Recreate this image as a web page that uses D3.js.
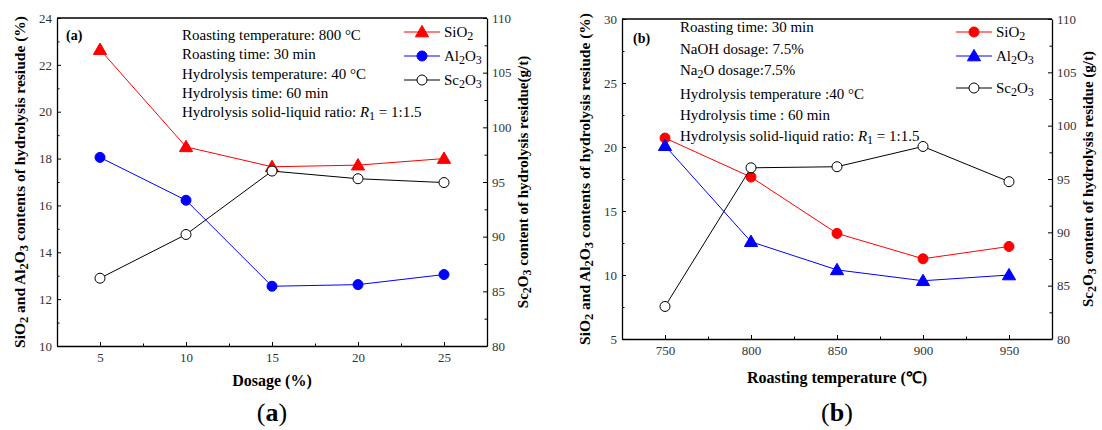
<!DOCTYPE html>
<html><head><meta charset="utf-8">
<script src="https://cdn.jsdelivr.net/npm/d3@7"></script>
<style>
body{margin:0;background:#fff;}
svg{font-family:"Liberation Serif","Times New Roman",serif;}
.tick text{fill:#333;font-size:13px;font-family:"Liberation Serif",serif;}
.domain{stroke:#000;stroke-width:1.3px;}
.tick line{stroke:#000;}
</style></head>
<body><svg id="c" width="1102" height="430"></svg>
<script>
// ---------- data ----------
const dosage = [5, 10, 15, 20, 25];
const sio2A = [22.65, 18.5, 17.65, 17.72, 18.0];
const al2o3A = [18.05, 16.22, 12.55, 12.62, 13.05];
const sc2o3A = [86.2, 90.2, 96.0, 95.3, 94.95];

const roastTemp = [750, 800, 850, 900, 950];
const sio2B = [20.7, 17.65, 13.25, 11.27, 12.23];
const al2o3B = [20.1, 12.6, 10.4, 9.55, 10.0];
const sc2o3B = [83.05, 96.05, 96.15, 98.05, 94.75];

const annoA = ["Roasting temperature: 800 °C","Roasting time: 30 min","Hydrolysis temperature: 40 °C","Hydrolysis time: 60 min","RATIO"];
const annoB = ["Roasting time: 30 min","NaOH dosage: 7.5%","NA2O","Hydrolysis temperature :40 °C","Hydrolysis time : 60 min","RATIO"];

const svg = d3.select("#c");

function formula(t, parts){
  parts.forEach(p=>{
    if(p[1]) t.append("tspan").attr("baseline-shift","-25%").attr("font-size","0.8em").text(p[0]);
    else t.append("tspan").text(p[0]);
  });
  return t;
}
const SIO2 = [["SiO"],["2",1]];
const AL2O3 = [["Al"],["2",1],["O"],["3",1]];
const SC2O3 = [["Sc"],["2",1],["O"],["3",1]];

function panel(o){
  const g = svg.append("g");
  const x = d3.scaleLinear().domain(o.xDom).range([o.x0,o.x1]);
  const yL = d3.scaleLinear().domain(o.yLDom).range([o.y1,o.y0]);
  const yR = d3.scaleLinear().domain([80,110]).range([o.y1,o.y0]);
  const clean = sel => sel.attr("font-family",null).attr("font-size",null);

  const minor = (axis, vals)=>axis.tickValues(vals).tickSize(-2.5).tickFormat("");
  g.append("g").attr("transform",`translate(0,${o.y1})`).call(minor(d3.axisBottom(x), o.xMinor)).select(".domain").remove();
  g.append("g").attr("transform",`translate(${o.x0},0)`).call(minor(d3.axisLeft(yL), o.yLMinor)).select(".domain").remove();
  g.append("g").attr("transform",`translate(${o.x1},0)`).call(minor(d3.axisRight(yR), d3.range(82.5,110,5))).select(".domain").remove();

  g.append("g").attr("transform",`translate(0,${o.y1})`)
    .call(d3.axisBottom(x).tickValues(o.xTicks).tickSize(-4).tickSizeOuter(0).tickPadding(7).tickFormat(d3.format("d"))).call(clean);
  g.append("g").attr("transform",`translate(${o.x0},0)`)
    .call(d3.axisLeft(yL).tickValues(o.yLTicks).tickSize(-4).tickSizeOuter(0).tickPadding(5).tickFormat(d3.format("d"))).call(clean);
  g.append("g").attr("transform",`translate(${o.x1},0)`)
    .call(d3.axisRight(yR).tickValues(d3.range(80,111,5)).tickSize(-4).tickSizeOuter(0).tickPadding(5).tickFormat(d3.format("d"))).call(clean);
  g.append("line").attr("x1",o.x0).attr("x2",o.x1).attr("y1",o.y0).attr("y2",o.y0).attr("stroke","#000").attr("stroke-width",1.3);

  const series = [
    {v:o.sio2, sc:yL, color:"#ff0000", sym:o.sioSym, fill:"#ff0000"},
    {v:o.al2o3, sc:yL, color:"#0000ff", sym:o.alSym, fill:"#0000ff"},
    {v:o.sc2o3, sc:yR, color:"#000", sym:"circle", fill:"#fff"}
  ];
  const drawSym = (sel, s, cx, cy)=>{
    if(s.sym==="circle"){
      sel.append("circle").attr("cx",cx).attr("cy",cy).attr("r",5)
        .attr("fill",s.fill).attr("stroke",s.color).attr("stroke-width",1);
    } else {
      sel.append("path").attr("d",d3.symbol(d3.symbolTriangle,75)())
        .attr("transform",`translate(${cx},${cy+1})`).attr("fill",s.fill).attr("stroke",s.color);
    }
  };
  series.forEach(s=>{
    const line = d3.line().x((d,i)=>x(o.xs[i])).y(d=>s.sc(d));
    g.append("path").attr("d",line(s.v)).attr("fill","none").attr("stroke",s.color).attr("stroke-width",1);
    s.v.forEach((d,i)=>drawSym(g,s,x(o.xs[i]),s.sc(d)));
  });

  const names=[SIO2,AL2O3,SC2O3];
  series.forEach((s,i)=>{
    const ly=o.legY[i];
    g.append("line").attr("x1",o.legX).attr("x2",o.legX+36).attr("y1",ly).attr("y2",ly).attr("stroke",s.color);
    drawSym(g,s,o.legX+18,ly);
    formula(g.append("text").attr("x",o.legX+40).attr("y",ly+5).attr("font-size",15),names[i]);
  });

  o.anno.forEach((a,i)=>{
    const t=g.append("text").attr("x",o.annoX).attr("y",o.annoY[i]).attr("font-size",15);
    if(a==="RATIO"){
      t.append("tspan").text("Hydrolysis solid-liquid ratio: ");
      t.append("tspan").attr("font-style","italic").text("R");
      t.append("tspan").attr("baseline-shift","-25%").attr("font-size","0.8em").text("1");
      t.append("tspan").text(" = 1:1.5");
    } else if(a==="NA2O"){
      formula(t,[["Na"],["2",1],["O dosage:7.5%"]]);
    } else t.text(a);
  });
  g.append("text").attr("x",o.labX).attr("y",o.labY).attr("font-size",14).attr("font-weight","bold").text(o.lab);

  const midY=(o.y0+o.y1)/2;
  formula(g.append("text").attr("transform",`translate(${o.tLX},${midY}) rotate(-90)`).attr("text-anchor","middle")
    .attr("font-size",15.5).attr("font-weight","bold"),
    [["SiO"],["2",1],[" and Al"],["2",1],["O"],["3",1],[" contents of hydrolysis resiude (%)"]]);
  formula(g.append("text").attr("transform",`translate(${o.tRX},${midY}) rotate(-90)`).attr("text-anchor","middle")
    .attr("font-size",15).attr("font-weight","bold"),
    [["Sc"],["2",1],["O"],["3",1],[o.rTitle]]);
  g.append("text").attr("x",(o.x0+o.x1)/2).attr("y",o.xTitleY).attr("text-anchor","middle")
    .attr("font-size",16).attr("font-weight","bold").text(o.xTitle);
  const pl=g.append("text").attr("x",(o.x0+o.x1)/2).attr("y",421).attr("text-anchor","middle").attr("font-size",26);
  pl.append("tspan").text("(");pl.append("tspan").attr("font-weight","bold").text(o.panel);pl.append("tspan").text(")");
}

panel({x0:57,x1:487,y0:18,y1:346,xDom:[2.5,27.5],yLDom:[10,24],
  xTicks:dosage,xMinor:[7.5,12.5,17.5,22.5],yLTicks:d3.range(10,25,2),yLMinor:d3.range(11,24,2),
  xs:dosage,sio2:sio2A,al2o3:al2o3A,sc2o3:sc2o3A,sioSym:"tri",alSym:"circle",
  legX:404,legY:[32,56,80],anno:annoA,annoX:182,annoY:[40,59,79,98,117],
  lab:"(a)",labX:66,labY:40,tLX:25,tRX:528,rTitle:" content of hydrolysis residue(g/t)",
  xTitle:"Dosage (%)",xTitleY:386,panel:"a"});

panel({x0:622,x1:1052,y0:19,y1:339,xDom:[725,975],yLDom:[5,30],
  xTicks:roastTemp,xMinor:[775,825,875,925],yLTicks:d3.range(5,31,5),yLMinor:d3.range(7.5,30,5),
  xs:roastTemp,sio2:sio2B,al2o3:al2o3B,sc2o3:sc2o3B,sioSym:"circle",alSym:"tri",
  legX:956,legY:[32,56,88],anno:annoB,annoX:680,annoY:[32,54,75,99,120,141],
  lab:"(b)",labX:633,labY:43,tLX:590,tRX:1093,rTitle:" content of hydrolysis residue (g/t)",
  xTitle:"Roasting temperature (℃)",xTitleY:383,panel:"b"});
</script></body></html>
